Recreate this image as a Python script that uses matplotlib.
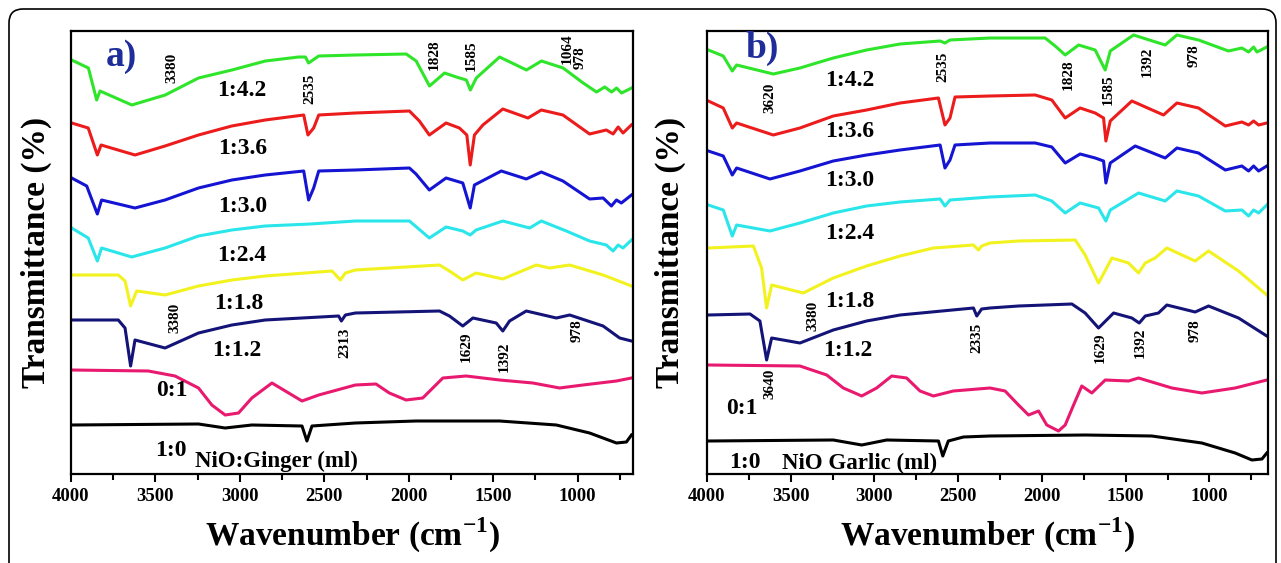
import numpy as np
import matplotlib
matplotlib.use("Agg")
import matplotlib.pyplot as plt
from matplotlib.patches import FancyBboxPatch
from matplotlib.transforms import IdentityTransform
from matplotlib.ticker import MultipleLocator

plt.rcParams["font.family"] = ["Liberation Serif", "DejaVu Serif"]
plt.rcParams["font.weight"] = "bold"
plt.rcParams["mathtext.fontset"] = "custom"
plt.rcParams["mathtext.rm"] = "Liberation Serif:bold"
plt.rcParams["mathtext.bf"] = "Liberation Serif:bold"

# ---- panel a) NiO:Ginger  (wavenumber cm-1, transmittance a.u. stacked)
g42_wn = [3996, 3897, 3848, 3828, 3640, 3442, 3245, 3047, 2849, 2652, 2612, 2593, 2533, 2316, 2015, 1956, 1877,
          1788, 1718, 1659, 1635, 1600, 1462, 1303, 1214, 1086, 967, 888, 839, 799, 769, 740, 680]
g42_t = [414, 406, 374, 383, 369, 379, 396, 404, 413, 417, 417, 411, 418, 419, 420, 413, 388,
         401, 397, 394, 384, 396, 417, 404, 413, 406, 391, 382, 387, 382, 386, 381, 386]

g36_wn = [3996, 3898, 3844, 3822, 3621, 3443, 3245, 3048, 2850, 2622, 2597, 2563, 2533, 2316, 1996, 1937, 1878,
          1779, 1700, 1656, 1636, 1611, 1561, 1443, 1294, 1215, 1087, 929, 830, 790, 760, 731, 682]
g36_t = [351, 346, 319, 329, 319, 328, 339, 348, 354, 359, 339, 346, 359, 361, 363, 353, 339,
         351, 346, 339, 309, 339, 349, 365, 356, 364, 359, 340, 344, 340, 347, 341, 349]

g30_wn = [3996, 3907, 3844, 3819, 3621, 3443, 3245, 3047, 2850, 2622, 2593, 2563, 2533, 2316, 1996, 1957, 1878,
          1779, 1680, 1636, 1611, 1452, 1304, 1215, 1087, 929, 849, 800, 770, 741, 681]
g30_t = [296, 288, 260, 274, 266, 274, 286, 294, 299, 303, 274, 286, 303, 304, 306, 300, 284,
         296, 291, 266, 289, 303, 295, 302, 293, 275, 276, 268, 274, 271, 279]

g24_wn = [3996, 3898, 3844, 3819, 3641, 3443, 3245, 3047, 2850, 2583, 2316, 1996, 1878, 1779, 1680, 1636, 1601,
          1443, 1284, 1215, 1067, 929, 830, 790, 760, 731, 681]
g24_t = [246, 236, 213, 226, 217, 226, 238, 244, 248, 250, 253, 253, 236, 247, 243, 239, 244,
         253, 246, 253, 243, 233, 229, 223, 229, 226, 234]

g18_wn = [3996, 3720, 3680, 3647, 3611, 3443, 3245, 3047, 2850, 2454, 2405, 2375, 2316, 1818, 1759, 1680, 1601,
          1443, 1245, 1166, 1047, 849, 681]
g18_t = [199, 199, 193, 168, 183, 179, 188, 194, 198, 203, 194, 201, 204, 209, 203, 194, 201,
         195, 209, 206, 209, 199, 188]

g12_wn = [3996, 3720, 3680, 3647, 3621, 3443, 3245, 3047, 2850, 2415, 2399, 2375, 2316, 1818, 1759, 1680, 1620,
          1482, 1443, 1403, 1304, 1126, 1047, 849, 751, 681]
g12_t = [154, 154, 146, 108, 134, 126, 141, 149, 154, 158, 153, 159, 161, 163, 158, 148, 156,
         151, 143, 153, 163, 156, 159, 148, 136, 133]

g01_wn = [3996, 3542, 3384, 3245, 3166, 3087, 3008, 2929, 2810, 2731, 2632, 2533, 2316, 2194, 2115, 2016, 1917,
          1798, 1660, 1462, 1265, 1107, 968, 770, 681]
g01_t = [104, 103, 98, 86, 69, 59, 61, 76, 91, 83, 73, 79, 89, 90, 81, 74, 76,
         96, 98, 94, 91, 86, 89, 93, 96]

g10_wn = [3996, 3245, 3087, 2929, 2632, 2603, 2573, 2316, 1957, 1462, 1126, 929, 770, 711, 681]
g10_t = [49, 50, 46, 49, 48, 33, 48, 51, 53, 53, 49, 41, 31, 32, 39]

# ---- panel b) NiO Garlic
k42_wn = [3992, 3903, 3849, 3823, 3604, 3445, 3246, 3047, 2847, 2608, 2579, 2549, 2310, 1981, 1921, 1861, 1781,
          1682, 1622, 1592, 1453, 1264, 1194, 1065, 886, 806, 766, 736, 716, 657]
k42_t = [424, 418, 403, 409, 400, 406, 416, 424, 430, 433, 431, 434, 436, 436, 428, 419, 429,
         424, 404, 423, 439, 429, 439, 434, 423, 426, 422, 427, 422, 427]

k36_wn = [3992, 3903, 3849, 3823, 3604, 3445, 3246, 3047, 2847, 2618, 2579, 2549, 2519, 2310, 2040, 1941, 1861,
          1772, 1682, 1632, 1618, 1592, 1463, 1274, 1194, 1065, 905, 806, 766, 736, 706, 657]
k36_t = [373, 366, 346, 351, 339, 346, 358, 364, 371, 376, 349, 356, 377, 378, 379, 374, 356,
         366, 361, 356, 333, 353, 373, 359, 371, 366, 348, 352, 349, 353, 349, 351]

k30_wn = [3992, 3903, 3849, 3823, 3624, 3445, 3246, 3047, 2847, 2608, 2579, 2549, 2519, 2310, 2040, 1941, 1861,
          1772, 1682, 1632, 1618, 1592, 1443, 1264, 1194, 1065, 905, 806, 766, 736, 706, 657]
k30_t = [323, 318, 299, 306, 295, 303, 313, 319, 324, 329, 306, 314, 329, 331, 331, 327, 311,
         320, 316, 313, 291, 311, 328, 316, 326, 321, 304, 308, 303, 308, 303, 308]

k24_wn = [3992, 3903, 3849, 3823, 3624, 3445, 3246, 3047, 2847, 2608, 2579, 2549, 2310, 2040, 1941, 1861, 1772,
          1662, 1618, 1592, 1423, 1264, 1194, 1065, 905, 806, 766, 736, 706, 657]
k24_t = [269, 264, 238, 249, 243, 251, 261, 268, 272, 275, 268, 274, 277, 279, 273, 261, 271,
         266, 253, 264, 281, 273, 283, 278, 263, 264, 258, 264, 261, 269]

k18_wn = [3992, 3723, 3674, 3644, 3614, 3425, 3246, 3047, 2847, 2648, 2409, 2379, 2360, 2310, 2140, 1801, 1742,
          1662, 1582, 1483, 1423, 1383, 1324, 1254, 1085, 1005, 826, 657]
k18_t = [226, 228, 206, 166, 189, 181, 196, 208, 218, 226, 229, 224, 228, 231, 233, 234, 219,
         191, 216, 211, 201, 211, 216, 226, 213, 223, 203, 179]

k12_wn = [3992, 3743, 3684, 3644, 3614, 3445, 3246, 3047, 2847, 2409, 2389, 2360, 2310, 2140, 1821, 1742, 1662,
          1572, 1463, 1419, 1383, 1304, 1254, 1085, 1005, 826, 657]
k12_t = [159, 160, 153, 114, 136, 131, 144, 153, 159, 166, 158, 165, 166, 168, 170, 161, 146,
         161, 156, 151, 158, 161, 169, 162, 168, 156, 138]

k01_wn = [3992, 3445, 3285, 3186, 3076, 2987, 2897, 2808, 2728, 2648, 2529, 2310, 2220, 2140, 2080, 2020, 1971,
          1901, 1861, 1811, 1762, 1702, 1622, 1483, 1423, 1224, 1045, 846, 657]
k01_t = [109, 108, 99, 86, 78, 86, 98, 96, 83, 78, 83, 86, 83, 69, 59, 63, 49,
         43, 49, 69, 88, 81, 94, 93, 96, 86, 81, 86, 94]

k10_wn = [3992, 3246, 3076, 2927, 2618, 2592, 2559, 2469, 2310, 1742, 1344, 1045, 846, 746, 686, 657]
k10_t = [33, 34, 29, 34, 33, 18, 33, 37, 38, 39, 38, 31, 21, 14, 15, 21]

colors = ["#2ee52a", "#ec1c1c", "#1414d2", "#2ae6ea", "#f2f21e", "#141478", "#e8196e", "#000000"]
ratios = ["1:4.2", "1:3.6", "1:3.0", "1:2.4", "1:1.8", "1:1.2", "0:1", "1:0"]

# label positions (wavenumber, transmittance)
ginger_ratio_pos = [(2986, 384), (2986, 326), (2986, 268), (2986, 219), (3004, 171), (3016, 124), (3401, 84), (3407, 23)]
garlic_ratio_pos = [(3146, 394), (3150, 343), (3150, 294), (3150, 241), (3150, 173), (3158, 124), (3791, 66), (3773, 11)]

ginger_peaks = [("3380", 3401, 406), ("2535", 2583, 385), ("1828", 1847, 419), ("1585", 1628, 418),
                ("1064", 1059, 425), ("978", 988, 416), ("3380", 3383, 156), ("2313", 2381, 131),
                ("1629", 1658, 127), ("1392", 1432, 117), ("978", 1005, 143)]
garlic_peaks = [("3620", 3624, 376), ("2535", 2590, 407), ("1828", 1843, 399), ("1585", 1604, 384),
                ("1392", 1371, 412), ("978", 1091, 418), ("3380", 3367, 158), ("2335", 2387, 136),
                ("3640", 3624, 90), ("1629", 1652, 126), ("1392", 1413, 131), ("978", 1085, 143)]

fig = plt.figure(figsize=(12.81, 5.63), dpi=100)
ax1 = fig.add_axes([71 / 1281, 1 - 474 / 563, 562 / 1281, 443 / 563])
ax2 = fig.add_axes([707 / 1281, 1 - 474 / 563, 561 / 1281, 443 / 563])

# outer rounded frame
frame = FancyBboxPatch((9, -30), 1267, 584, boxstyle="round,pad=0,rounding_size=14",
                       transform=IdentityTransform(), fill=False, edgecolor="black", linewidth=1.2)
fig.patches.append(frame)

ginger = [(g42_wn, g42_t), (g36_wn, g36_t), (g30_wn, g30_t), (g24_wn, g24_t),
          (g18_wn, g18_t), (g12_wn, g12_t), (g01_wn, g01_t), (g10_wn, g10_t)]
garlic = [(k42_wn, k42_t), (k36_wn, k36_t), (k30_wn, k30_t), (k24_wn, k24_t),
          (k18_wn, k18_t), (k12_wn, k12_t), (k01_wn, k01_t), (k10_wn, k10_t)]

panels = [(ax1, ginger, ginger_ratio_pos, ginger_peaks, "a)", (3703, 418), "NiO:Ginger (ml)", (3265, 13), 672, -0.034),
          (ax2, garlic, garlic_ratio_pos, garlic_peaks, "b)", (3671, 426), "NiO Garlic (ml)", (3552, 11), 650, -0.037)]

for ax, series, rpos, peaks, tag, tagpos, title, titlepos, xend, ylab_x in panels:
    for (wn, t), c in zip(series, colors):
        ax.plot(wn, t, color=c, linewidth=2.2, solid_joinstyle="round")
    for r, (x, y) in zip(ratios, rpos):
        ax.text(x, y, r, fontsize=17, fontweight="bold", ha="center", va="center")
    for lab, x, y in peaks:
        ax.text(x, y, lab, fontsize=11, fontweight="bold", rotation=90, ha="center", va="center")
    ax.text(tagpos[0], tagpos[1], tag, fontsize=27, fontweight="bold", color="#1e2d9a", ha="center", va="center")
    ax.text(titlepos[0], titlepos[1], title, fontsize=16.5, fontweight="bold", ha="left", va="center")

    ax.set_xlim(4000, xend)
    ax.set_ylim(0, 443)
    ax.xaxis.set_major_locator(MultipleLocator(500))
    ax.xaxis.set_minor_locator(MultipleLocator(250))
    ax.set_yticks([])
    ax.tick_params(axis="x", which="major", direction="out", length=6, width=1.5, labelsize=13.5, pad=4)
    ax.tick_params(axis="x", which="minor", direction="out", length=4, width=1.5)
    for lbl in ax.get_xticklabels():
        lbl.set_fontweight("bold")
    for s in ax.spines.values():
        s.set_linewidth(1.6)
    ax.set_xlabel(r"Wavenumber (cm$^{\mathbf{-1}}$)", fontsize=24, fontweight="bold", labelpad=8)
    ax.set_ylabel("Transmittance (%)", fontsize=24, fontweight="bold")
    ax.yaxis.set_label_coords(ylab_x, 0.5)

fig.savefig("out.png", dpi=100)
